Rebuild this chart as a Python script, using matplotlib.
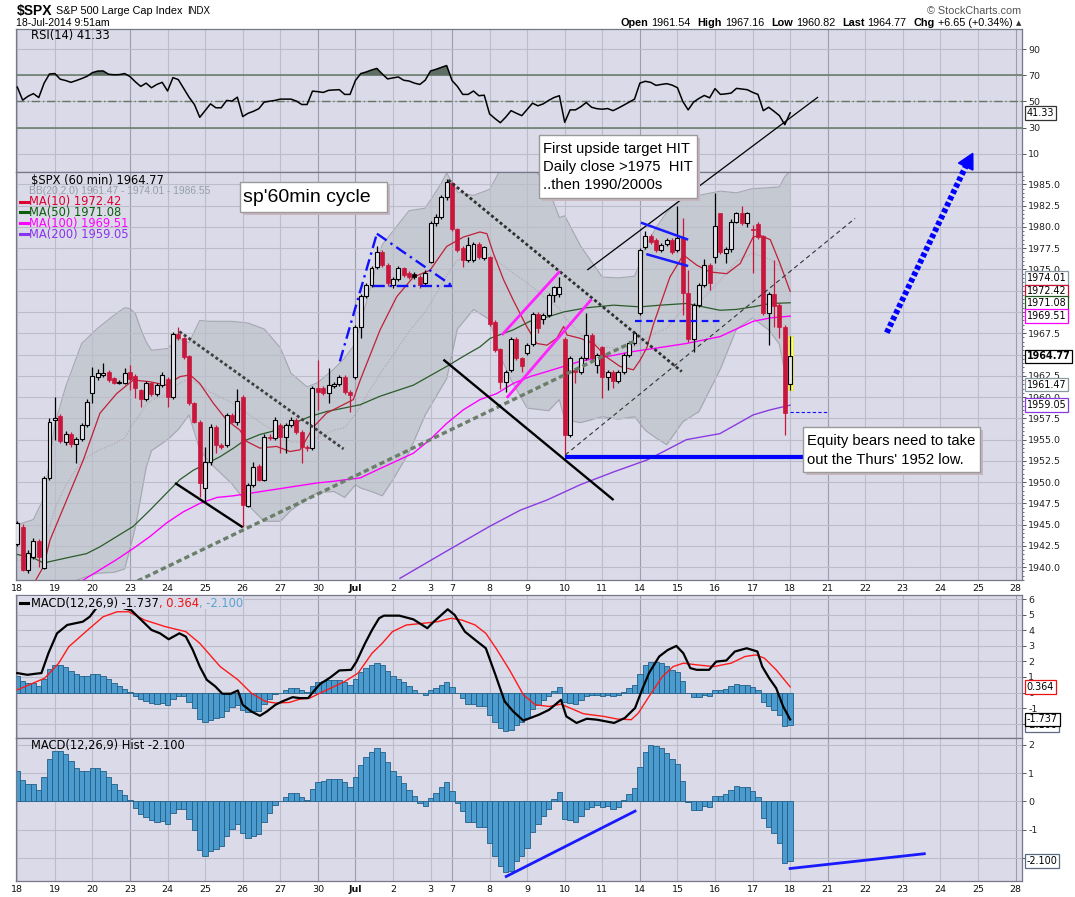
import numpy as np
import matplotlib
matplotlib.use("Agg")
import matplotlib.pyplot as plt
from matplotlib.patches import Rectangle, Polygon
from matplotlib.lines import Line2D

# ---- hourly bars of $SPX, 18-Jun-2014 .. 18-Jul-2014 ----
opens = [1942.74, 1944.70, 1939.68, 1941.25, 1943.09, 1939.96, 1950.45, 1957.30, 1957.78, 1954.76,
         1955.66, 1954.45, 1955.04, 1956.70, 1960.50, 1962.32, 1962.60, 1962.99, 1962.20, 1961.70,
         1961.70, 1962.99, 1962.48, 1960.83, 1959.74, 1961.60, 1960.36, 1961.42, 1962.10, 1959.97,
         1967.37, 1966.90, 1964.83, 1959.27, 1957.10, 1949.28, 1952.41, 1956.50, 1954.37, 1954.37,
         1957.90, 1957.10, 1960.05, 1947.24, 1949.67, 1951.90, 1950.30, 1955.35, 1955.15, 1956.70,
         1955.35, 1956.70, 1957.30, 1955.95, 1954.17, 1953.98, 1961.03, 1961.03, 1960.44, 1961.34,
         1961.54, 1962.32, 1960.64, 1962.32, 1968.27, 1971.87, 1973.17, 1975.32, 1977.08, 1975.52,
         1973.17, 1973.83, 1975.12, 1974.54, 1974.46, 1974.07, 1973.36, 1975.91, 1980.41, 1981.20,
         1983.47, 1985.11, 1979.71, 1977.48, 1976.10, 1976.10, 1977.98, 1976.30, 1976.42, 1968.86,
         1965.61, 1961.81, 1963.18, 1966.78, 1964.55, 1965.14, 1966.23, 1969.76, 1969.13, 1969.64,
         1971.99, 1972.11, 1966.78, 1955.54, 1963.18, 1962.98, 1964.55, 1967.29, 1963.77, 1965.84,
         1962.40, 1962.98, 1961.92, 1962.98, 1964.94, 1966.31, 1969.92, 1977.60, 1978.92, 1978.45,
         1977.28, 1977.98, 1978.45, 1977.28, 1978.65, 1972.27, 1966.78, 1970.82, 1973.17, 1975.52,
         1976.42, 1981.59, 1976.97, 1977.36, 1980.61, 1981.59, 1980.41, 1979.75, 1980.33, 1978.92,
         1969.92, 1972.11, 1970.82, 1968.27, 1961.54]
highs = [1945.40, 1945.10, 1942.00, 1943.40, 1943.30, 1950.70, 1957.50, 1960.05, 1958.00, 1956.00,
         1955.90, 1955.30, 1957.00, 1959.80, 1963.57, 1963.30, 1963.97, 1963.20, 1962.40, 1962.00,
         1963.40, 1963.80, 1962.70, 1961.00, 1961.90, 1961.80, 1961.70, 1962.90, 1962.30, 1967.70,
         1968.20, 1967.10, 1965.00, 1959.40, 1957.30, 1954.17, 1956.80, 1956.70, 1954.60, 1958.10,
         1958.10, 1960.90, 1960.30, 1949.90, 1952.41, 1952.10, 1955.60, 1955.60, 1957.60, 1956.90,
         1957.00, 1957.60, 1957.50, 1956.10, 1954.40, 1961.30, 1964.40, 1961.30, 1963.40, 1961.80,
         1962.60, 1962.60, 1960.80, 1968.50, 1972.10, 1973.40, 1975.40, 1977.80, 1977.30, 1975.70,
         1974.10, 1975.40, 1975.30, 1974.80, 1974.70, 1974.30, 1974.90, 1980.70, 1981.50, 1983.70,
         1985.58, 1985.30, 1979.90, 1977.70, 1978.85, 1978.20, 1978.20, 1977.80, 1976.60, 1969.00,
         1965.80, 1963.20, 1967.00, 1967.00, 1964.70, 1966.40, 1970.00, 1970.00, 1969.90, 1972.20,
         1973.10, 1974.15, 1967.00, 1964.80, 1963.40, 1964.80, 1969.92, 1967.50, 1965.20, 1966.00,
         1963.20, 1963.20, 1963.20, 1965.20, 1966.60, 1967.80, 1977.50, 1979.50, 1979.20, 1978.70,
         1978.10, 1978.70, 1978.70, 1982.45, 1981.00, 1974.90, 1971.00, 1973.40, 1976.18, 1975.70,
         1983.94, 1981.67, 1977.60, 1980.90, 1981.80, 1982.45, 1981.80, 1980.22, 1980.61, 1979.10,
         1972.40, 1976.10, 1971.00, 1968.50, 1967.16]
lows = [1942.50, 1939.50, 1939.30, 1941.00, 1940.00, 1939.80, 1950.30, 1954.96, 1954.60, 1954.40,
        1954.10, 1952.30, 1954.80, 1956.50, 1959.27, 1962.00, 1962.30, 1961.80, 1961.50, 1961.50,
        1961.50, 1960.83, 1959.85, 1958.87, 1959.50, 1960.10, 1960.10, 1961.20, 1958.87, 1959.80,
        1966.70, 1964.50, 1959.10, 1956.90, 1948.30, 1947.50, 1952.00, 1953.39, 1953.90, 1954.10,
        1956.90, 1956.70, 1944.77, 1947.12, 1949.40, 1950.10, 1950.10, 1954.90, 1954.90, 1953.39,
        1953.40, 1956.50, 1955.70, 1952.20, 1953.70, 1953.80, 1958.48, 1960.20, 1959.27, 1961.10,
        1961.30, 1960.40, 1958.30, 1962.10, 1966.90, 1971.60, 1972.90, 1975.10, 1975.30, 1973.10,
        1972.80, 1973.60, 1974.10, 1973.90, 1973.90, 1972.80, 1973.10, 1975.70, 1980.10, 1980.90,
        1983.20, 1979.50, 1977.00, 1975.32, 1975.90, 1975.90, 1976.20, 1976.10, 1968.30, 1965.30,
        1960.90, 1960.63, 1963.00, 1964.30, 1962.90, 1964.90, 1966.00, 1967.50, 1968.60, 1969.40,
        1971.20, 1971.80, 1953.00, 1955.30, 1961.60, 1962.70, 1964.30, 1964.30, 1962.80, 1959.85,
        1960.83, 1961.02, 1961.70, 1962.70, 1964.70, 1966.10, 1969.70, 1977.40, 1978.00, 1977.00,
        1977.00, 1977.70, 1976.80, 1977.00, 1969.60, 1966.50, 1965.33, 1970.60, 1972.90, 1972.58,
        1975.70, 1976.80, 1975.71, 1977.10, 1980.40, 1980.20, 1979.94, 1974.54, 1978.60, 1969.60,
        1966.12, 1968.27, 1966.90, 1955.54, 1960.82]
closes = [1945.17, 1939.68, 1941.64, 1943.09, 1941.25, 1950.45, 1957.10, 1957.50, 1954.88, 1955.66,
          1954.45, 1955.04, 1956.70, 1959.46, 1962.48, 1962.79, 1962.87, 1962.00, 1961.70, 1961.80,
          1962.87, 1962.10, 1961.03, 1959.74, 1961.60, 1960.36, 1961.42, 1962.60, 1959.97, 1967.37,
          1966.90, 1964.75, 1959.27, 1957.10, 1949.94, 1952.41, 1956.50, 1954.37, 1954.17, 1957.90,
          1957.10, 1959.58, 1947.32, 1949.67, 1951.80, 1950.30, 1955.35, 1955.15, 1957.30, 1955.35,
          1956.70, 1957.30, 1955.95, 1954.17, 1953.98, 1961.03, 1960.64, 1960.44, 1961.42, 1961.54,
          1962.32, 1960.64, 1960.25, 1968.28, 1971.87, 1973.17, 1975.12, 1977.08, 1975.52, 1973.36,
          1973.83, 1975.12, 1974.34, 1974.15, 1974.15, 1973.17, 1974.62, 1980.41, 1981.20, 1983.47,
          1985.31, 1979.71, 1977.28, 1976.10, 1977.87, 1977.98, 1976.42, 1977.60, 1968.58, 1965.53,
          1961.81, 1962.98, 1966.78, 1964.55, 1963.65, 1966.12, 1969.76, 1968.07, 1969.64, 1971.99,
          1972.89, 1972.89, 1955.54, 1964.55, 1962.98, 1964.55, 1967.29, 1964.55, 1964.94, 1962.40,
          1962.98, 1961.92, 1962.98, 1964.94, 1966.31, 1967.49, 1977.28, 1978.92, 1978.26, 1977.28,
          1977.87, 1978.45, 1977.08, 1978.65, 1972.19, 1966.78, 1970.82, 1973.17, 1975.52, 1973.36,
          1980.10, 1977.08, 1977.36, 1980.61, 1981.59, 1980.41, 1981.59, 1979.60, 1978.85, 1969.84,
          1972.11, 1970.70, 1968.27, 1958.12, 1964.77]

# Bollinger bands (20,2) at sampled bars
bb_idx = [0, 3, 5, 7, 9, 12, 15, 18, 20, 21, 22, 23, 24, 25, 28, 30, 32, 34, 36, 40,
          43, 46, 49, 51, 54, 56, 59, 61, 63, 64, 66, 68, 70, 73, 76, 79, 80, 82, 85, 88,
          90, 92, 95, 99, 101, 102, 105, 109, 112, 115, 116, 117, 119, 121, 124, 127, 131, 134, 137, 140,
          142, 143, 144]
bb_upper = [1945.0, 1945.6, 1948.2, 1956.8, 1961.2, 1966.3, 1968.1, 1969.6, 1970.5, 1970.4,
            1969.8, 1968.0, 1966.5, 1965.5, 1965.7, 1966.9, 1966.4, 1969.0, 1968.9, 1968.9,
            1968.7, 1968.0, 1965.8, 1962.8, 1961.2, 1961.7, 1963.3, 1964.6, 1966.3, 1968.7,
            1973.4, 1977.9, 1979.5, 1981.9, 1982.2, 1985.1, 1986.35, 1984.1, 1983.7, 1984.4,
            1986.7, 1987.6, 1988.1, 1984.4, 1981.1, 1981.3, 1977.7, 1974.1, 1974.0, 1974.2,
            1975.7, 1977.6, 1979.9, 1981.7, 1983.5, 1983.7, 1984.2, 1984.0, 1984.5, 1984.6,
            1984.7, 1985.9, 1986.55]
bb_mid = [1940.8, 1941.0, 1942.3, 1946.9, 1949.6, 1952.5, 1953.7, 1954.5, 1955.17, 1956.29,
          1957.26, 1958.09, 1959.11, 1959.61, 1960.33, 1961.54, 1962.15, 1961.41, 1960.57, 1959.33,
          1958.02, 1956.72, 1955.61, 1954.73, 1954.62, 1955.26, 1956.10, 1956.42, 1958.00, 1959.00,
          1961.13, 1963.14, 1964.90, 1967.71, 1970.02, 1973.10, 1974.25, 1976.06, 1976.99, 1976.73,
          1975.74, 1974.76, 1973.40, 1971.39, 1970.42, 1969.34, 1967.34, 1965.90, 1965.71, 1965.93,
          1966.31, 1966.85, 1967.55, 1968.07, 1970.32, 1971.04, 1973.73, 1975.99, 1976.89, 1976.26,
          1975.43, 1974.40, 1974.01]
bb_lower = [1936.6, 1936.4, 1936.4, 1937.0, 1938.0, 1938.7, 1939.3, 1939.4, 1939.8, 1942.2,
            1944.7, 1948.2, 1951.7, 1953.7, 1955.0, 1956.2, 1957.9, 1953.8, 1952.2, 1949.8,
            1947.3, 1945.4, 1945.4, 1946.7, 1948.0, 1948.8, 1948.9, 1948.2, 1949.7, 1949.3,
            1948.9, 1948.4, 1950.3, 1953.5, 1957.9, 1961.1, 1962.15, 1968.0, 1970.3, 1969.1,
            1964.8, 1962.0, 1958.7, 1958.4, 1959.7, 1957.3, 1957.0, 1957.7, 1957.4, 1957.7,
            1956.9, 1956.1, 1955.2, 1954.4, 1957.1, 1958.3, 1963.3, 1968.0, 1969.3, 1967.9,
            1966.2, 1962.9, 1961.47]

# moving averages (bar, value)
ma10_x = [3, 4.9, 6.1, 9.2, 12.3, 15.4, 18.5, 21.6, 24.7, 27.8, 30.3, 32.2, 34, 36.5, 39, 41.5, 42.7,
          45.2, 48.3, 50.8, 52.7, 55.2, 57.6, 60.1, 62.6, 63.9, 67.6, 70.7, 73.8, 76.9, 80, 83.1, 86.2,
          87.5, 88.7, 90.6, 92.4, 94.9, 96.8, 98.7, 100.5, 101.8, 102.4, 104.9, 107.4, 109.8, 112.3,
          114.8, 116, 117.3, 118.5, 121.6, 124.1, 126.6, 129.1, 132.2, 134.7, 137.1, 138.4, 140.3, 142.1, 144]
ma10_y = [1938.0, 1940.1, 1943.2, 1947.9, 1952.6, 1958.1, 1960.4, 1962.0, 1961.8, 1961.4, 1962.4, 1962.6,
          1961.6, 1959.3, 1957.3, 1956.1, 1954.8, 1954.0, 1954.2, 1953.6, 1953.8, 1956.5, 1958.1, 1958.9,
          1959.7, 1962.0, 1967.9, 1971.8, 1974.1, 1974.9, 1977.7, 1978.8, 1979.4, 1979.2, 1976.9, 1973.8,
          1971.4, 1968.3, 1966.3, 1966.1, 1966.9, 1968.3, 1967.3, 1966.9, 1966.3, 1964.7, 1963.6, 1963.2,
          1964.3, 1965.8, 1968.5, 1974.1, 1976.7, 1975.5, 1974.7, 1974.5, 1975.7, 1978.8, 1979.0, 1978.5,
          1975.7, 1972.42]
ma50_x = [0, 3, 4.9, 9.2, 12.9, 15.4, 18.5, 21.6, 24.7, 27.8, 30.3, 32.8, 35.3, 37.8, 40.3, 42.1, 45.2,
          48.3, 51.4, 54.5, 57.6, 60.8, 63.9, 67.6, 73.8, 80, 83.7, 86.2, 88.1, 92.4, 95.5, 98.7, 101.8,
          106.1, 111.1, 116, 119.8, 124.7, 130.9, 134, 137.1, 140.3, 144]
ma50_y = [1941.5, 1941.1, 1940.5, 1941.1, 1941.6, 1942.4, 1943.6, 1944.8, 1946.7, 1948.7, 1950.3, 1951.4,
          1952.2, 1953.0, 1954.0, 1954.8, 1955.6, 1956.1, 1956.9, 1957.7, 1958.3, 1958.7, 1959.1, 1960.1,
          1961.4, 1963.6, 1965.0, 1965.9, 1966.9, 1967.9, 1968.9, 1969.4, 1970.0, 1970.5, 1970.8, 1970.6,
          1970.8, 1971.0, 1970.2, 1970.3, 1970.6, 1971.0, 1971.08]
ma100_x = [10, 12.3, 15.4, 18.5, 21.6, 24.7, 27.8, 30.9, 34, 37.2, 40.3, 43.4, 46.5, 49.6, 52.7, 55.8,
           58.9, 63.9, 67.6, 73.8, 76.9, 80, 83.1, 86.2, 89.3, 92.4, 95.5, 98.7, 101.8, 104.9, 108,
           111.1, 114.2, 118.5, 124.7, 130.9, 137.1, 140.3, 144]
ma100_y = [1937.7, 1938.5, 1939.7, 1940.9, 1942.2, 1943.6, 1945.2, 1946.5, 1947.5, 1948.2, 1948.4, 1948.7,
           1949.0, 1949.3, 1949.6, 1949.9, 1950.1, 1950.5, 1951.6, 1953.4, 1955.0, 1956.9, 1958.5, 1959.7,
           1960.4, 1961.6, 1962.4, 1963.0, 1963.6, 1964.2, 1964.6, 1964.9, 1965.3, 1965.7, 1966.3, 1967.1,
           1968.9, 1969.3, 1969.51]
ma200_x = [71.3, 80, 88, 93.7, 98.7, 104.9, 111.1, 117.3, 119.8, 124.7, 130.9, 137.1, 140.3, 144]
ma200_y = [1938.7, 1941.9, 1944.8, 1946.7, 1947.9, 1949.7, 1951.2, 1952.6, 1953.4, 1955.0, 1955.7,
           1957.9, 1958.5, 1959.05]

rsi = [61, 51, 54, 56, 53, 64, 71, 71.3, 67, 66,
       64.6, 66, 67.5, 69.2, 72, 73.2, 73.3, 70.8, 70.4, 70.5,
       71.3, 69, 65, 61.5, 64, 60.5, 63, 64.6, 58, 68.2,
       66.7, 60, 53.3, 47.7, 37.9, 43, 48.2, 45.2, 45.2, 50.8,
       50.3, 53.3, 38.5, 41, 42.5, 44.5, 49.5, 50.2, 50.8, 51.8,
       51.8, 51.8, 50.3, 47.7, 47.7, 57.9, 57.5, 56.9, 58.5, 58.8,
       59, 55.4, 55.4, 66, 71.3, 72.5, 74, 75.2, 71, 67.2,
       68, 68.7, 66.2, 65.6, 64, 63, 66.2, 73.3, 74.5, 76,
       77.4, 66, 61.5, 55.4, 55.4, 58, 54.4, 54.8, 40.5, 37,
       33.8, 38, 43, 41, 39.2, 44, 48.7, 46.7, 48.2, 50.8,
       53, 54.4, 34.1, 43.6, 43.6, 46, 49.2, 45.6, 44.5, 44.1,
       44.6, 43, 45, 47.2, 49.5, 51.8, 64, 65.4, 64.6, 62.3,
       63, 63.6, 62.5, 60.5, 50, 43.6, 49.5, 52.3, 54.6, 52.8,
       59.8, 55.4, 55.8, 56.4, 60, 59.5, 59, 57, 55.4, 43,
       45.6, 42.5, 39.2, 32.3, 41.33]

macd_x = [0, 1.9, 3.2, 4.5, 5.8, 7.4, 9.3, 12.2, 13.5, 14.7, 16.2, 18.3, 19.9, 21.2, 23.1, 25, 26.6, 28.2,
          30.2, 31.4, 32.7, 34, 35.3, 36.9, 38.2, 39.8, 41.1, 42, 43.6, 45.2, 46.5, 48.1, 49.4, 51.3, 52.6,
          54.2, 55.2, 56.4, 58.4, 60, 62.2, 63.2, 64.8, 66.1, 67.4, 68.3, 71.2, 73.8, 76.4, 77.6, 80.2, 81.5,
          83.4, 85.3, 87.3, 89.2, 90.8, 92.4, 94.3, 95.9, 97.2, 99.1, 101.3, 102.3, 104.2, 106.1, 108, 111.2,
          113.2, 115.1, 116.4, 117.7, 119.6, 121.2, 122.8, 124.1, 125.4, 126.6, 128.9, 130.2, 132.1, 133.7,
          135.9, 137.9, 138.8, 140.1, 141.4, 142.7, 144]
macd_y = [1.25, 1.14, 1.2, 1.25, 2.53, 3.81, 4.35, 4.56, 4.88, 5.42, 5.9, 5.75, 5.42, 5.31, 4.67, 4.03, 3.81,
          3.43, 3.81, 3.6, 2.74, 1.67, 0.82, 0.39, -0.08, -0.08, 0.13, -0.79, -1.22, -1.5, -1.22, -0.79,
          -0.57, -0.3, -0.36, -0.36, 0.07, 0.54, 0.99, 1.42, 1.46, 1.99, 3.17, 4.03, 4.78, 4.95, 4.95, 4.71,
          4.14, 4.56, 5.36, 4.99, 3.92, 3.39, 2.85, 1.03, -0.57, -1.22, -1.81, -1.6, -1.43, -1.11, -0.47,
          -1.54, -1.96, -1.69, -1.75, -1.96, -1.64, -1.0, 0.17, 1.25, 2.32, 2.74, 3.0, 2.53, 1.57, 1.46,
          1.46, 1.99, 2.06, 2.64, 2.85, 2.64, 1.67, 0.92, 0.28, -0.9, -1.737]
signal_x = [0, 5.1, 7.7, 9.6, 13.5, 16, 18.6, 20.8, 23.7, 27.6, 31.4, 34, 37.8, 41.1, 43.6, 46.2, 48.1,
            50.7, 52.6, 54.5, 56.4, 58.4, 61, 63.5, 66.1, 68, 69.9, 72.5, 75.7, 78.3, 80.8, 82.8, 85.3,
            87.3, 89.2, 91.7, 94.3, 96.5, 99.1, 101.3, 103, 105.5, 109.3, 111.8, 114.4, 115.7, 117.7,
            120.2, 122.2, 124.1, 126.6, 129.8, 133, 135.6, 137.6, 139.2, 141.4, 144]
signal_y = [0.17, 0.92, 1.88, 2.95, 4.14, 4.88, 5.2, 5.2, 4.67, 4.24, 3.92, 3.17, 1.67, 0.82, -0.04, -0.57,
            -0.68, -0.64, -0.43, -0.36, -0.04, 0.28, 0.71, 1.25, 2.53, 3.17, 3.92, 4.35, 4.46, 4.56, 4.78,
            4.67, 4.35, 3.81, 2.85, 1.46, -0.15, -0.79, -0.9, -0.75, -1.0, -1.37, -1.54, -1.71, -1.75,
            -1.33, -0.26, 1.03, 1.67, 1.89, 1.78, 1.67, 1.89, 2.32, 2.42, 2.21, 1.46, 0.364]
hist = [1.06, 0.74, 0.63, 0.60, 0.42, 0.86, 1.49, 1.79, 1.79, 1.67,
        1.41, 1.18, 1.06, 1.06, 1.18, 1.18, 1.06, 0.86, 0.60, 0.40,
        0.22, 0.04, -0.22, -0.45, -0.54, -0.65, -0.71, -0.69, -0.81, -0.40,
        -0.25, -0.25, -0.63, -1.01, -1.71, -1.92, -1.74, -1.66, -1.57, -1.22,
        -0.96, -0.81, -1.12, -1.27, -1.22, -1.16, -0.71, -0.40, -0.11, 0.00,
        0.16, 0.30, 0.30, 0.16, 0.05, 0.44, 0.67, 0.73, 0.79, 0.79,
        0.79, 0.67, 0.51, 0.86, 1.30, 1.57, 1.74, 1.88, 1.74, 1.39,
        1.09, 0.88, 0.65, 0.40, 0.19, -0.05, -0.16, 0.13, 0.30, 0.51,
        0.69, 0.36, -0.05, -0.34, -0.73, -0.73, -0.89, -0.89, -1.45, -1.92,
        -2.27, -2.50, -2.44, -2.09, -1.92, -1.63, -1.08, -0.78, -0.51, -0.25,
        0.09, 0.34, -0.63, -0.65, -0.71, -0.51, -0.25, -0.18, -0.13, -0.21,
        -0.15, -0.25, -0.18, 0.05, 0.28, 0.48, 1.21, 1.74, 1.99, 1.96,
        1.88, 1.71, 1.48, 1.33, 0.71, -0.02, -0.30, -0.30, -0.15, -0.21,
        0.19, 0.19, 0.25, 0.42, 0.54, 0.51, 0.51, 0.36, 0.16, -0.58,
        -0.89, -1.12, -1.45, -2.15, -2.10]

day_labels = ['18', '19', '20', '23', '24', '25', '26', '27', '30', 'Jul', '2', '3', '7', '8',
              '9', '10', '11', '14', '15', '16', '17', '18', '21', '22', '23', '24', '25', '28']
bars_per_day = [7] * 11 + [4] + [7] * 15
week_marks = [3, 8, 9, 12, 17, 22, 27]

# ---------------- layout ----------------
W, H = 1075, 897
BG = '#dadae8'
GRID = '#bcbccb'
GRID_DARK = '#9d9daf'
RED = '#c8163c'
XLO, XHI = -0.24, 187.2

fig = plt.figure(figsize=(W / 100, H / 100), dpi=100)
fig.patch.set_facecolor('white')


def fx(px):
    return px / W


def fy(py):
    return 1 - py / H


def box(top, bottom):
    return [fx(16), fy(bottom), (1022 - 16) / W, (bottom - top) / H]


ax_rsi = fig.add_axes(box(29, 172))
ax = fig.add_axes(box(172, 580))
ax_macd = fig.add_axes(box(595, 738))
ax_hist = fig.add_axes(box(738, 881))

day_start = np.concatenate([[0], np.cumsum(bars_per_day)])


def panel(a, ylo, yhi, ticks, labels):
    a.set_facecolor(BG)
    a.set_xlim(XLO, XHI)
    a.set_ylim(ylo, yhi)
    a.yaxis.tick_right()
    a.set_yticks(ticks)
    a.set_yticklabels(labels)
    a.tick_params(axis='y', labelsize=6.8, length=3, width=0.7, pad=1.5,
                  color='#555566', labelcolor='#222222')
    a.set_xticks([])
    for s in a.spines.values():
        s.set_color('#77778a')
        s.set_linewidth(0.9)
    for k, d in enumerate(day_start):
        a.axvline(d, color=GRID_DARK if k in week_marks else GRID, lw=0.8, zorder=0.6)
    for t in ticks:
        a.axhline(t, color=GRID, lw=0.8, zorder=0.6)


def date_axis(a):
    a.set_xticks(day_start)
    a.set_xticklabels(day_labels)
    a.tick_params(axis='x', length=0, pad=3, labelsize=6.8, labelcolor='#111111')
    a.get_xticklabels()[9].set_fontweight('bold')


def tag(a, val, txt, ec, bold=False):
    a.annotate(txt, xy=(1.0, val), xycoords=a.get_yaxis_transform(), xytext=(3.5, 0),
               textcoords='offset points', ha='left', va='center', fontsize=6.9,
               fontweight='bold' if bold else 'normal',
               bbox=dict(boxstyle='square,pad=0.18', fc='white', ec=ec, lw=0.9),
               annotation_clip=False, zorder=10)


# ---------------- RSI ----------------
x = np.arange(len(closes))
rsi_a = np.array(rsi)
panel(ax_rsi, -3.8, 105.3, [10, 30, 50, 70, 90], ['10', '30', '50', '70', '90'])
ax_rsi.axhline(70, color='#667766', lw=1.1, zorder=1)
ax_rsi.axhline(30, color='#667766', lw=1.1, zorder=1)
ax_rsi.axhline(50, color='#667766', lw=1.0, ls=(0, (6, 2, 1, 2)), zorder=1)
ax_rsi.fill_between(x, rsi_a, 70, where=rsi_a > 70, interpolate=True, color='#5f6e64', zorder=1.5, lw=0)
ax_rsi.plot(x, rsi_a, color='black', lw=1.1, zorder=3)
tag(ax_rsi, 41.33, '41.33', '#333333')

# ---------------- price ----------------
price_ticks = np.arange(1940, 1985.1, 2.5)
# labels hidden behind the value tags on the right are left blank
hidden = {1972.5, 1970.0, 1965.0}
panel(ax, 1938.5, 1986.45, price_ticks,
      ['' if t in hidden else '%.1f' % t for t in price_ticks])
ax.yaxis.set_minor_locator(matplotlib.ticker.MultipleLocator(0.5))
ax.tick_params(axis='y', which='minor', length=1.5, width=0.6, color='#555566')
date_axis(ax)

ax.fill_between(bb_idx, bb_lower, bb_upper, color='#c5c9d1', lw=0, zorder=0.3)
ax.plot(bb_idx, bb_upper, color='#a4a7b0', lw=0.8, zorder=0.4)
ax.plot(bb_idx, bb_lower, color='#a4a7b0', lw=0.8, zorder=0.4)
ax.plot(bb_idx, bb_mid, color='#b0a4b0', lw=0.8, ls=(0, (1, 1.5)), zorder=0.7)

ax.plot(ma200_x, ma200_y, color='#8a3be0', lw=1.0, zorder=1.2)
ax.plot(ma100_x, ma100_y, color='#ff00ff', lw=1.0, zorder=1.2)
ax.plot(ma50_x, ma50_y, color='#2a5c2a', lw=0.9, zorder=1.2)
ax.plot(ma10_x, ma10_y, color='#c0203a', lw=0.9, zorder=1.2)

o = np.array(opens)
c = np.array(closes)
hi = np.array(highs)
lo = np.array(lows)
prev = np.r_[c[0], c[:-1]]
col = np.where(c < prev, RED, 'black')
up = c >= o
body_lo = np.minimum(o, c)
body_h = np.maximum(np.abs(c - o), 0.08)

ax.bar(x[-1], hi[-1] - lo[-1], bottom=lo[-1], width=0.95, color='#ffff70', ec='#e6e650',
       lw=0.6, zorder=2.5)
ax.vlines(x, lo, hi, colors=col, lw=0.9, zorder=3)
ax.bar(x[up], body_h[up], bottom=body_lo[up], width=0.74, facecolor='#e4e4ee',
       edgecolor=col[up], lw=0.8, zorder=4)
ax.bar(x[~up], body_h[~up], bottom=body_lo[~up], width=0.74, color=col[~up],
       edgecolor=col[~up], lw=0.5, zorder=4)

# hand drawn trend lines (bar, price)
DOT = (0, (1.1, 0.9))
lines = [
    (30.2, 1967.7, 60.8, 1953.9, '#404040', 2.0, DOT, True),
    (29.4, 1949.9, 42.0, 1944.7, 'black', 1.7, '-', True),
    (19.5, 1937.5, 115.4, 1966.7, '#6a7e6a', 2.4, (0, (1.6, 1.0)), True),
    (80.3, 1985.5, 123.8, 1963.0, '#303030', 2.0, DOT, True),
    (79.4, 1964.4, 111.1, 1947.9, 'black', 1.7, '-', True),
    (90.3, 1967.3, 101.1, 1974.8, '#ff22ff', 2.0, '-', True),
    (91.2, 1959.9, 107.0, 1971.5, '#ff22ff', 2.0, '-', True),
    (102.1, 1953.2, 156.1, 1981.0, '#333333', 0.8, (0, (4, 3)), True),
    (106.2, 1974.93, 149.2, 1995.26, 'black', 0.9, '-', False),
    (60.1, 1964.2, 67.0, 1979.2, '#1010ff', 1.7, (0, (5, 2, 1, 2)), True),
    (67.0, 1979.2, 81.0, 1973.1, '#1010ff', 1.7, (0, (5, 2, 1, 2)), True),
    (66.3, 1973.1, 81.0, 1973.1, '#1010ff', 1.7, (0, (5, 2, 1, 2)), True),
    (116.2, 1980.5, 125.0, 1978.5, '#1a1aff', 1.8, '-', True),
    (117.2, 1976.8, 125.0, 1975.4, '#1a1aff', 1.8, '-', True),
    (115.1, 1968.9, 131.0, 1968.9, '#1010ff', 1.6, (0, (3, 2)), True),
    (144.0, 1958.2, 151.0, 1958.2, '#1010ff', 0.8, (0, (3, 2)), True),
    (102.1, 1952.9, 146.5, 1952.9, '#0000ff', 3.0, '-', True),
]
for x0, y0, x1, y1, lc, lw, ls, clip in lines:
    ax.plot([x0, x1], [y0, y1], color=lc, lw=lw, ls=ls, zorder=5, clip_on=clip,
            solid_capstyle='butt', dash_capstyle='butt')

# big dotted arrow
ax.plot([162.0, 176.7], [1967.56, 1987.09], color='#0000ff', lw=4.2, ls=(0, (0.75, 0.45)),
        zorder=5, clip_on=False, dash_capstyle='butt')
ax.add_patch(Polygon([(178.03, 1988.64), (175.36, 1987.50), (178.05, 1986.68)], closed=True,
                     color='#0000ff', zorder=5, clip_on=False))

for val, txt, ec, b in [(1974.01, '1974.01', '#8a98a0', False), (1972.42, '1972.42', '#cc1133', False),
                        (1971.08, '1971.08', '#1e5a1e', False), (1969.51, '1969.51', '#ff00ff', False),
                        (1964.77, '1964.77', '#000000', True), (1961.47, '1961.47', '#8a98a0', False),
                        (1959.05, '1959.05', '#8a3be0', False)]:
    tag(ax, val, txt, ec, b)

# ---------------- MACD ----------------
panel(ax_macd, -2.93, 6.28, list(range(-2, 7)), [('' if t == -2 else str(t)) for t in range(-2, 7)])
ax_macd.bar(x, hist, width=1.0, color='#4b9bcf', edgecolor='#215f86', lw=0.6, zorder=2)
ax_macd.plot(signal_x, signal_y, color='#ff1a1a', lw=1.0, zorder=3)
ax_macd.plot(macd_x, macd_y, color='black', lw=1.6, zorder=4)
tag(ax_macd, -2.100, '-2.100', '#5a6a80')
tag(ax_macd, 0.364, '0.364', '#ee1111')
tag(ax_macd, -1.737, '-1.737', '#000000')

# ---------------- MACD histogram ----------------
panel(ax_hist, -2.80, 2.235, [-2, -1, 0, 1, 2], ['', '-1', '0', '1', '2'])
date_axis(ax_hist)
ax_hist.bar(x, hist, width=1.0, color='#4b9bcf', edgecolor='#215f86', lw=0.6, zorder=2)
ax_hist.plot([91.1, 115.1], [-2.64, -0.34], color='#1a1aff', lw=2.0, zorder=5)
ax_hist.plot([144.0, 169.0], [-2.36, -1.84], color='#1a1aff', lw=2.0, zorder=5)
tag(ax_hist, -2.100, '-2.100', '#5a6a80')

# ---------------- texts ----------------
renderer = fig.canvas.get_renderer()


def text_run(x_px, y_px, parts, right=False):
    items = []
    total = 0
    for s, gap, kw in parts:
        t = fig.text(0, fy(y_px), s, va='center', ha='left', **kw)
        w = t.get_window_extent(renderer=renderer).width
        items.append((t, w, gap))
        total += w + gap
    total -= items[-1][2]
    cur = x_px - total if right else x_px
    for t, w, gap in items:
        t.set_x(fx(cur))
        cur += w + gap


HB = dict(family='Liberation Sans', fontsize=7.8, fontweight='bold', color='black')
HN = dict(family='Liberation Sans', fontsize=7.8, color='black')
text_run(16.5, 11, [(r'\$SPX', 4, dict(family='Liberation Sans', fontsize=10, fontweight='bold')),
                    ('S&P 500 Large Cap Index', 5, dict(family='Liberation Sans', fontsize=7.8)),
                    ('INDX', 0, dict(family='Liberation Sans', fontsize=7))])
fig.text(fx(16.5), fy(23.5), '18-Jul-2014 9:51am', family='Liberation Sans', fontsize=7.6, va='center')
fig.text(fx(1021), fy(10.5), '\u00a9 StockCharts.com', family='Liberation Sans', fontsize=7.8,
         color='#555555', va='center', ha='right')
text_run(1021, 23.5, [('Open', 3, HB), ('1961.54', 7, HN), ('High', 3, HB), ('1967.16', 7, HN),
                      ('Low', 3, HB), ('1960.82', 7, HN), ('Last', 3, HB), ('1964.77', 7, HN),
                      ('Chg', 3, HB), ('+6.65 (+0.34%)', 3, HN),
                      ('\u25b2', 0, dict(family='DejaVu Sans', fontsize=5, color='#333333'))], right=True)

LG = dict(family='DejaVu Sans', fontsize=8.3)
fig.text(fx(31), fy(36), 'RSI(14) 41.33', va='center', **LG)
fig.text(fx(31), fy(180), r'\$SPX (60 min) 1964.77', va='center', **LG)
fig.text(fx(29), fy(191), 'BB(20,2.0) 1961.47 - 1974.01 - 1986.55', va='center', color='#96a0a8',
         family='Liberation Sans', fontsize=7.4)
for yy, s, cc in [(201.7, 'MA(10) 1972.42', '#dd0033'), (212.3, 'MA(50) 1971.08', '#0a5e0a'),
                  (223.3, 'MA(100) 1969.51', '#ff00ff'), (234.3, 'MA(200) 1959.05', '#8833ee')]:
    fig.add_artist(Line2D([fx(19.5), fx(27.5)], [fy(yy), fy(yy)], color=cc, lw=2.2))
    fig.text(fx(29), fy(yy), s, va='center', color=cc, family='DejaVu Sans', fontsize=8.3)

fig.patches.append(Rectangle((fx(18), fy(609)), 225 / W, 13 / H, transform=fig.transFigure,
                             fc=BG, ec='none', zorder=3))
fig.add_artist(Line2D([fx(20), fx(28)], [fy(603), fy(603)], color='black', lw=2.2, zorder=4))
text_run(31, 603, [('MACD(12,26,9) -1.737', 0, dict(LG, color='black', zorder=4)),
                   (', 0.364', 0, dict(LG, color='#ee1111', zorder=4)),
                   (', -2.100', 0, dict(LG, color='#5ba3d0', zorder=4))])
fig.text(fx(31), fy(745.5), 'MACD(12,26,9) Hist -2.100', va='center', **LG)


def note(left, top, right, bottom, lines_txt, size, tx, ty0, dy):
    fig.patches.append(Rectangle((fx(left + 3), fy(bottom + 3)), (right - left) / W, (bottom - top) / H,
                                 transform=fig.transFigure, fc='#c8b6be', ec='none', zorder=5))
    fig.patches.append(Rectangle((fx(left), fy(bottom)), (right - left) / W, (bottom - top) / H,
                                 transform=fig.transFigure, fc='white', ec='#9a9a9a', lw=1, zorder=6))
    for k, s in enumerate(lines_txt):
        fig.text(fx(tx), fy(ty0 + k * dy), s, family='Liberation Sans', fontsize=size,
                 va='center', ha='left', zorder=7)


note(240, 182, 387, 212, ["sp'60min cycle"], 14, 243, 197.5, 0)
note(539, 135, 697, 198, ['First upside target HIT', 'Daily close >1975  HIT', '..then 1990/2000s'],
     10.6, 543, 148.5, 18.4)
note(803, 427, 980, 472, ['Equity bears need to take', "out the Thurs' 1952 low."], 10.6, 807, 441, 19)

fig.savefig('out.png', dpi=100, facecolor='white')
